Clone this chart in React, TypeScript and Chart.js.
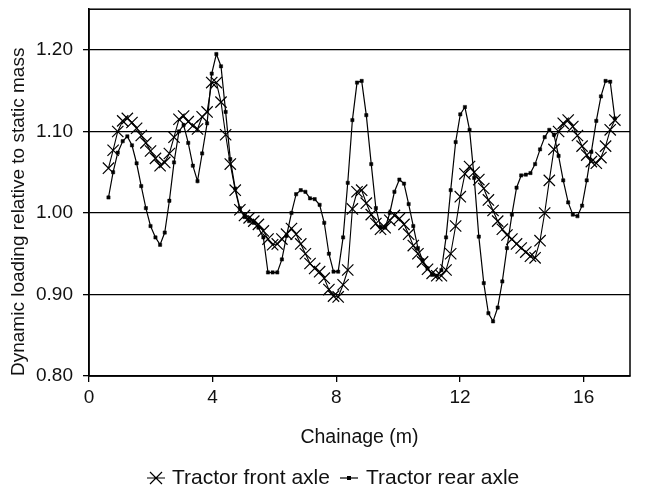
import React, { useEffect, useRef } from 'react';
import { Chart, registerables } from 'chart.js';

Chart.register(...registerables);

const chainage = [
  0.63, 0.78, 0.93, 1.09, 1.24, 1.39, 1.54, 1.69, 1.84, 1.99,
  2.15, 2.30, 2.45, 2.60, 2.75, 2.91, 3.06, 3.21, 3.36, 3.51,
  3.66, 3.82, 3.97, 4.12, 4.27, 4.42, 4.57, 4.73, 4.88, 5.03,
  5.18, 5.33, 5.48, 5.64, 5.79, 5.94, 6.09, 6.24, 6.39, 6.55,
  6.70, 6.85, 7.00, 7.15, 7.30, 7.46, 7.61, 7.76, 7.91, 8.06,
  8.22, 8.37, 8.52, 8.67, 8.82, 8.97, 9.13, 9.28, 9.43, 9.58,
  9.73, 9.88, 10.04, 10.19, 10.34, 10.49, 10.64, 10.79, 10.95, 11.10,
  11.25, 11.40, 11.55, 11.70, 11.86, 12.01, 12.16, 12.31, 12.46, 12.61,
  12.77, 12.92, 13.07, 13.22, 13.37, 13.52, 13.68, 13.83, 13.98, 14.13,
  14.28, 14.43, 14.59, 14.74, 14.89, 15.04, 15.19, 15.34, 15.50, 15.65,
  15.80, 15.95, 16.10, 16.25, 16.41, 16.56, 16.71, 16.86, 17.01,
];

const frontAxle = [
  1.055, 1.077, 1.100, 1.113, 1.116, 1.111, 1.104, 1.095, 1.086, 1.076,
  1.067, 1.058, 1.062, 1.073, 1.093, 1.115, 1.119, 1.112, 1.107, 1.103,
  1.118, 1.124, 1.160, 1.160, 1.136, 1.096, 1.060, 1.028, 1.004, 0.997,
  0.994, 0.990, 0.986, 0.978, 0.968, 0.961, 0.962, 0.968, 0.974, 0.981,
  0.974, 0.962, 0.950, 0.938, 0.932, 0.928, 0.920, 0.906, 0.898, 0.897,
  0.912, 0.930, 1.005, 1.026, 1.028, 1.012, 0.998, 0.987, 0.980, 0.982,
  0.991, 0.997, 0.993, 0.986, 0.974, 0.960, 0.950, 0.940, 0.931, 0.926,
  0.923, 0.923, 0.930, 0.950, 0.984, 1.020, 1.048, 1.057, 1.050, 1.041,
  1.030, 1.016, 1.003, 0.990, 0.980, 0.973, 0.968, 0.962, 0.957, 0.952,
  0.947, 0.945, 0.966, 1.000, 1.040, 1.078, 1.100, 1.110, 1.114, 1.106,
  1.095, 1.082, 1.071, 1.063, 1.061, 1.068, 1.082, 1.102, 1.114,
];

const rearAxle = [
  1.019, 1.050, 1.074, 1.088, 1.094, 1.083, 1.061, 1.033, 1.006, 0.984,
  0.970, 0.961, 0.976, 1.015, 1.062, 1.100, 1.108, 1.086, 1.058, 1.039,
  1.073, 1.110, 1.171, 1.195, 1.180, 1.124, 1.066, 1.030, 1.006, 0.995,
  0.990, 0.988, 0.982, 0.970, 0.927, 0.927, 0.927, 0.943, 0.972, 1.000,
  1.023, 1.028, 1.026, 1.018, 1.017, 1.010, 0.988, 0.950, 0.928, 0.928,
  0.970, 1.037, 1.114, 1.160, 1.162, 1.120, 1.060, 1.006, 0.983, 0.982,
  1.000, 1.026, 1.041, 1.036, 1.011, 0.984, 0.957, 0.942, 0.932, 0.924,
  0.923, 0.930, 0.970, 1.028, 1.087, 1.121, 1.130, 1.102, 1.043, 0.971,
  0.914, 0.877, 0.867, 0.884, 0.916, 0.957, 0.998, 1.031, 1.046, 1.047,
  1.049, 1.060, 1.078, 1.093, 1.102, 1.096, 1.070, 1.040, 1.013, 0.998,
  0.996, 1.009, 1.040, 1.075, 1.113, 1.143, 1.162, 1.161, 1.116,
];

const xTicks = [0, 4, 8, 12, 16];
const yTicks = [0.8, 0.9, 1.0, 1.1, 1.2];
const seriesNames = ['Tractor front axle', 'Tractor rear axle'];
const xTitle = 'Chainage (m)';
const yTitle = 'Dynamic loading relative to static mass';

const FONT = "'Liberation Sans', Arial, Helvetica, sans-serif";
const INK = '#111';

const framePlugin = {
  id: 'frameAndLegend',
  afterDraw(chart: any) {
    const { ctx, chartArea: a } = chart;
    ctx.save();
    ctx.strokeStyle = '#000';
    ctx.lineWidth = 1.5;
    ctx.strokeRect(a.left, a.top, a.right - a.left, a.bottom - a.top);

    // legend
    const y = 478;
    ctx.lineWidth = 1.2;
    ctx.strokeStyle = '#000';
    const fx = 156;
    ctx.beginPath();
    ctx.moveTo(fx - 9, y);
    ctx.lineTo(fx + 9, y);
    ctx.moveTo(fx - 6, y - 6);
    ctx.lineTo(fx + 6, y + 6);
    ctx.moveTo(fx - 6, y + 6);
    ctx.lineTo(fx + 6, y - 6);
    ctx.stroke();
    const rx = 349;
    ctx.beginPath();
    ctx.moveTo(rx - 9, y);
    ctx.lineTo(rx + 9, y);
    ctx.stroke();
    ctx.fillStyle = '#000';
    ctx.fillRect(rx - 2, y - 2, 4, 4);

    ctx.font = `21px ${FONT}`;
    ctx.fillStyle = INK;
    ctx.textBaseline = 'middle';
    ctx.textAlign = 'left';
    ctx.fillText(seriesNames[0], 172, y);
    ctx.fillText(seriesNames[1], 366, y);
    ctx.restore();
  },
};

export default function App() {
  const ref = useRef<HTMLCanvasElement | null>(null);

  useEffect(() => {
    if (!ref.current) return;
    const chart = new Chart(ref.current, {
      type: 'line',
      data: {
        datasets: [
          {
            label: seriesNames[0],
            data: chainage.map((x, i) => ({ x, y: frontAxle[i] })),
            borderColor: '#000',
            borderWidth: 1.1,
            pointStyle: 'crossRot',
            pointRadius: 8,
            pointBorderWidth: 1.2,
            pointBorderColor: '#000',
            pointBackgroundColor: 'rgba(0,0,0,0)',
            tension: 0,
          },
          {
            label: seriesNames[1],
            data: chainage.map((x, i) => ({ x, y: rearAxle[i] })),
            borderColor: '#000',
            borderWidth: 1.2,
            pointStyle: 'rect',
            pointRadius: 2.3,
            pointBorderWidth: 0.5,
            pointBorderColor: '#000',
            pointBackgroundColor: '#000',
            tension: 0,
          },
        ],
      },
      options: {
        animation: false,
        responsive: false,
        devicePixelRatio: 1,
        layout: { padding: { top: 7, right: 18, left: 0, bottom: 0 } },
        plugins: {
          legend: { display: false },
          tooltip: { enabled: false },
        },
        scales: {
          x: {
            type: 'linear',
            min: 0,
            max: 17.5,
            afterBuildTicks: (s: any) => {
              s.ticks = xTicks.map((v) => ({ value: v }));
            },
            afterFit: (s: any) => {
              s.height = 114;
              s.paddingLeft = 0;
              s.paddingRight = 0;
            },
            ticks: {
              font: { family: FONT, size: 19 },
              color: INK,
              padding: 4,
              maxRotation: 0,
              autoSkip: false,
            },
            grid: {
              drawOnChartArea: false,
              drawTicks: true,
              tickLength: 6,
              color: '#000',
              lineWidth: 1.3,
            },
            border: { display: true, color: '#000', width: 1.5 },
            title: {
              display: true,
              text: xTitle,
              font: { family: FONT, size: 19.5 },
              color: INK,
              padding: { top: 0, bottom: 41 },
            },
          },
          y: {
            type: 'linear',
            min: 0.8,
            max: 1.25,
            afterBuildTicks: (s: any) => {
              s.ticks = yTicks.map((v) => ({ value: v }));
            },
            afterFit: (s: any) => {
              s.width = 89;
              s.paddingTop = 0;
              s.paddingBottom = 0;
            },
            ticks: {
              font: { family: FONT, size: 19 },
              color: INK,
              padding: 10,
              callback: (v: any) => Number(v).toFixed(2),
            },
            grid: {
              drawOnChartArea: true,
              drawTicks: true,
              tickLength: 6,
              color: '#000',
              lineWidth: 1.3,
            },
            border: { display: true, color: '#000', width: 1.5 },
            title: {
              display: true,
              text: yTitle,
              align: 'start',
              font: { family: FONT, size: 19 },
              color: INK,
              padding: { top: 7, bottom: 0 },
            },
          },
        },
      },
      plugins: [framePlugin],
    } as any);
    return () => chart.destroy();
  }, []);

  return (
    <div style={{ position: 'fixed', left: 0, top: 0, width: 648, height: 490, background: '#fff' }}>
      <canvas ref={ref} width={648} height={490} style={{ width: 648, height: 490, display: 'block' }} />
    </div>
  );
}
